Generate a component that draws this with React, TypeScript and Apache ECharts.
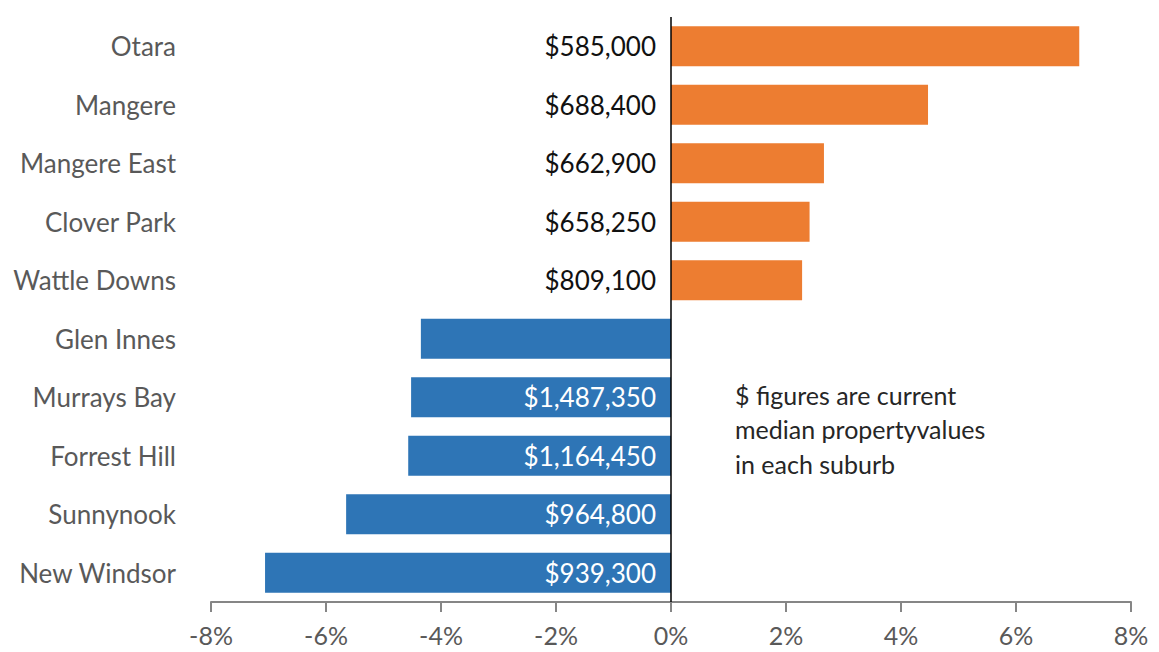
import React, { useEffect, useRef } from "react";
import * as echarts from "echarts";

const suburbs = [
  "Otara",
  "Mangere",
  "Mangere East",
  "Clover Park",
  "Wattle Downs",
  "Glen Innes",
  "Murrays Bay",
  "Forrest Hill",
  "Sunnynook",
  "New Windsor",
];
const changePct = [7.1, 4.47, 2.66, 2.41, 2.28, -4.35, -4.52, -4.57, -5.65, -7.06];
const medianValues = [
  "$585,000",
  "$688,400",
  "$662,900",
  "$658,250",
  "$809,100",
  "",
  "$1,487,350",
  "$1,164,450",
  "$964,800",
  "$939,300",
];
const noteLines = ["$ figures are current", "median propertyvalues", "in each suburb"];

const FONT = "Lato, 'Open Sans', sans-serif";
const ORANGE = "#ED7D31";
const BLUE = "#2E75B6";

export default function App() {
  const ref = useRef<HTMLDivElement>(null);
  useEffect(() => {
    if (!ref.current) return;
    const chart = echarts.init(ref.current, undefined, { renderer: "svg" });
    const data = changePct.map((v, i) => ({
      value: v,
      itemStyle: { color: v >= 0 ? ORANGE : BLUE },
      label: {
        show: medianValues[i] !== "",
        formatter: medianValues[i],
        position: v >= 0 ? "left" : "insideRight",
        distance: 15,
        color: v >= 0 ? "#111111" : "#ffffff",
        fontSize: 26,
        fontFamily: FONT,
      },
    }));
    chart.setOption({
      animation: false,
      backgroundColor: "#ffffff",
      grid: { left: 211, right: 28, top: 17, bottom: 50, containLabel: false },
      xAxis: {
        type: "value",
        min: -8,
        max: 8,
        interval: 2,
        splitLine: { show: false },
        axisLine: { show: true, lineStyle: { color: "#868686", width: 2 } },
        axisTick: { show: true, length: 10, lineStyle: { color: "#868686", width: 2 } },
        axisLabel: {
          formatter: "{value}%",
          color: "#595959",
          fontSize: 25,
          fontFamily: FONT,
          margin: 20,
        },
      },
      yAxis: {
        type: "category",
        data: suburbs,
        inverse: true,
        axisLine: { show: false },
        axisTick: { show: false },
        splitLine: { show: false },
        axisLabel: {
          color: "#595959",
          fontSize: 26,
          fontFamily: FONT,
          margin: 35,
        },
      },
      series: [
        {
          type: "bar",
          data,
          barWidth: 40,
          markLine: {
            silent: true,
            symbol: "none",
            label: { show: false },
            lineStyle: { color: "#000000", width: 1.5, type: "solid" },
            data: [{ xAxis: 0 }],
          },
        },
      ],
      graphic: noteLines.map((t, i) => ({
        type: "text",
        left: 735,
        top: 382 + i * 34.5,
        style: {
          text: t,
          fill: "#262626",
          fontSize: 25,
          fontFamily: FONT,
        },
      })),
    });
    return () => chart.dispose();
  }, []);
  return (
    <div
      ref={ref}
      style={{ position: "absolute", left: 0, top: 0, width: 1159, height: 652 }}
    />
  );
}
